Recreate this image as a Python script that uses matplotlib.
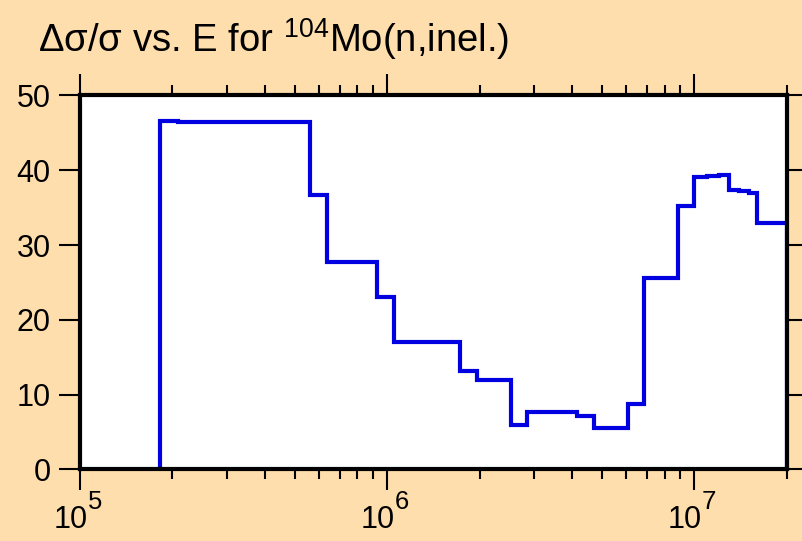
import numpy as np
import matplotlib.pyplot as plt
from matplotlib.ticker import LogLocator, FixedLocator, NullFormatter

plt.rcParams['font.family'] = ['Liberation Sans', 'DejaVu Sans']
plt.rcParams['mathtext.fontset'] = 'custom'
plt.rcParams['mathtext.rm'] = 'Liberation Sans'
plt.rcParams['mathtext.default'] = 'regular'

# bin edges (eV) and relative uncertainty (%)
edges = [1.82e5, 2.09e5, 5.62e5, 6.37e5, 9.27e5, 1.053e6, 1.73e6, 1.96e6,
         2.52e6, 2.86e6, 4.16e6, 4.71e6, 6.07e6, 6.87e6, 8.83e6, 1.0e7,
         1.1e7, 1.2e7, 1.3e7, 1.4e7, 1.5e7, 1.6e7, 2.0e7]
values = [46.6, 46.4, 36.7, 27.8, 23.0, 17.1, 13.2, 11.9, 5.9, 7.7, 7.15,
          5.5, 8.7, 25.6, 35.2, 39.1, 39.3, 39.4, 37.4, 37.2, 37.0, 32.9]
yticks = [0, 10, 20, 30, 40, 50]
xticks = [1e5, 1e6, 1e7]

bg = '#ffdead'
fig = plt.figure(figsize=(8.03, 5.41), dpi=100, facecolor=bg)
ax = fig.add_axes([0.0996, 0.1322, 0.8804, 0.6913])
ax.set_facecolor('white')

ax.stairs(values, edges, baseline=0, fill=False, color='#0000e0', linewidth=3.0)

ax.set_xscale('log')
ax.set_xlim(1e5, 2e7)
ax.set_ylim(0, 50)
ax.yaxis.set_major_locator(FixedLocator(yticks))
ax.xaxis.set_major_locator(FixedLocator(xticks))
ax.xaxis.set_minor_locator(LogLocator(base=10, subs=np.arange(2, 10), numticks=10))
ax.xaxis.set_minor_formatter(NullFormatter())

for s in ax.spines.values():
    s.set_linewidth(3.0)
ax.tick_params(which='both', direction='out', top=True, right=True, color='black')
ax.tick_params(which='major', length=15, width=1.5)
ax.tick_params(which='minor', length=7.5, width=1.5)
ax.tick_params(axis='y', labelsize=22, pad=6)
ax.tick_params(axis='x', labelbottom=False)

# x labels as 10 with a large exponent
for v in xticks:
    e = int(round(np.log10(v)))
    ax.annotate('10', xy=(v, 0), xycoords=('data', 'axes fraction'),
                xytext=(5.5, -42), textcoords='offset points',
                ha='right', va='baseline', fontsize=22)
    ax.annotate(str(e), xy=(v, 0), xycoords=('data', 'axes fraction'),
                xytext=(5.5, -28.5), textcoords='offset points',
                ha='left', va='baseline', fontsize=18.5)

fig.text(0.047, 0.9033, r'Δσ/σ vs. E for $^{104}$Mo(n,inel.)', fontsize=27.5,
         ha='left', va='baseline')

fig.savefig('out.png', dpi=100, facecolor=bg)
